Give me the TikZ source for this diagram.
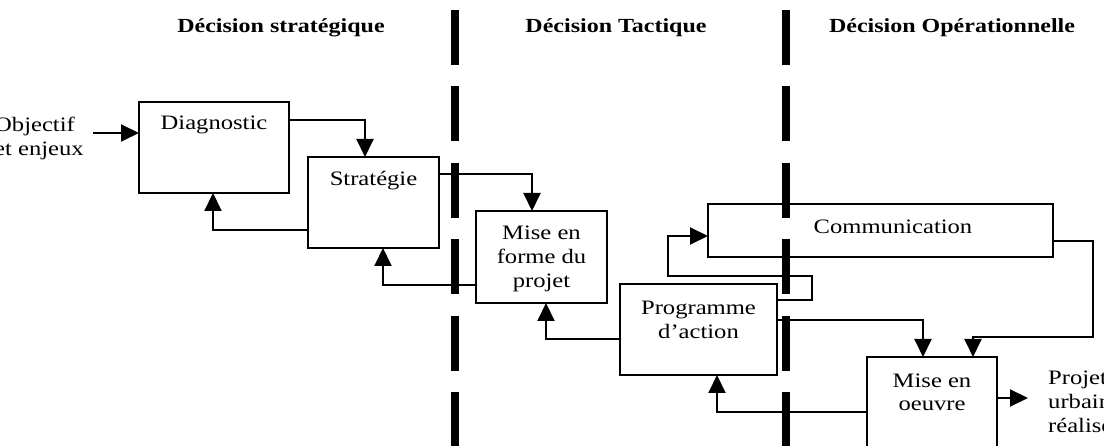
\documentclass[tikz,border=0pt]{standalone}
\usepackage{fontspec}
\setmainfont{Liberation Serif}[FakeStretch=1.2]
\usetikzlibrary{arrows.meta}
\tikzset{
  box/.style={draw, line width=2.2pt, inner sep=0pt, outer sep=0pt, rectangle},
  lbl/.style={font=\fontsize{20.5}{24}\selectfont, align=center, inner sep=0pt, anchor=base},
  head/.style={font=\fontsize{20}{24}\selectfont\bfseries, inner sep=0pt, anchor=base},
  conn/.style={line width=2pt},
  arr/.style={conn, -{Triangle[length=18pt,width=17pt]}},
  sepline/.style={line width=8pt, dash pattern=on 55pt off 21.4pt}
}
\begin{document}
\begin{tikzpicture}[x=1pt,y=-1pt]
\useasboundingbox (0,0) rectangle (1104,446);
\fill[white] (0,0) rectangle (1104,446);

% separators
\draw[sepline] (455,10) -- (455,460);
\draw[sepline] (786,10) -- (786,460);

% headers
\node[head] (h1) at (281,33) {Décision stratégique};
\node[head] (h2) at (616,33) {Décision Tactique};
\node[head] (h3) at (952,33) {Décision Opérationnelle};

% boxes
\node[box, minimum width=150pt, minimum height=91pt] (diag) at (214,147.5) {};
\node[box, minimum width=131pt, minimum height=91pt] (strat) at (373.5,202.5) {};
\node[box, minimum width=131pt, minimum height=92pt] (mef) at (541.5,257) {};
\node[box, minimum width=157pt, minimum height=91pt] (prog) at (698.5,329.5) {};
\node[box, minimum width=345pt, minimum height=53pt] (comm) at (880.5,230.5) {};
\node[box, minimum width=130pt, minimum height=103pt] (moe) at (932,408.5) {};

% texts (multi-line: base = baseline of last line)
\node[lbl] (tdiag) at (214,130) {Diagnostic};
\node[lbl] (tstrat) at (373.5,186) {Stratégie};
\node[lbl] (tcomm) at (893,234) {Communication};
\node[lbl] (tmef) at (541.5,288) {Mise en\\forme du\\projet};
\node[lbl] (tprog) at (698.5,339) {Programme\\d’action};
\node[lbl] (tmoe) at (932,411) {Mise en\\oeuvre};
\node[lbl, align=left, anchor=base west] (tobj) at (-6,156) {Objectif\\et enjeux};
\node[lbl, align=left, anchor=base west] (tproj) at (1048,433) {Projet\\urbain\\réalisé};

% connectors
\coordinate (objend) at (93,133);
\coordinate (pend) at (1028,398);
\draw[arr] (objend) -- (objend -| diag.west);
\draw[arr] (diag.east |- 0,120) -| (strat.north -| 365,0);
\draw[arr] (strat.west |- 0,230) -| (diag.south -| 213,0);
\draw[arr] (strat.east |- 0,174) -| (mef.north -| 532,0);
\draw[arr] (mef.west |- 0,285) -| (strat.south -| 383,0);
\draw[arr] (prog.west |- 0,339) -| (mef.south -| 546,0);
\draw[arr] (prog.east |- 0,300) -- (812,300) -- (812,276) -- (668,276) -- (668,236) -- (comm.west |- 0,236);
\draw[arr] (prog.east |- 0,320) -| (moe.north -| 923,0);
\draw[arr] (comm.east |- 0,241) -- (1093,241) -- (1093,337) -- (973,337) -- (moe.north -| 973,0);
\draw[arr] (moe.west |- 0,412) -| (prog.south -| 717,0);
\draw[arr] (moe.east |- 0,398) -- (pend);
\end{tikzpicture}
\end{document}
